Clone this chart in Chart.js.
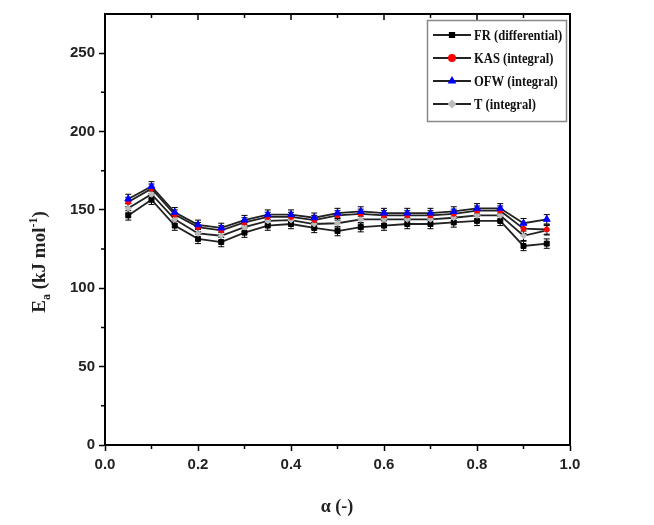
<!DOCTYPE html>
<html>
<head>
<meta charset="utf-8">
<script src="https://cdn.jsdelivr.net/npm/chart.js@4.4.0/dist/chart.umd.min.js"></script>
<style>
  html, body { margin: 0; padding: 0; background: #fff; }
  #wrap { width: 654px; height: 525px; }
</style>
</head>
<body>
<div id="wrap"><canvas id="chart" width="654" height="525"></canvas></div>
<script>
// conversion (x values)
const alpha = [0.05, 0.10, 0.15, 0.20, 0.25, 0.30, 0.35, 0.40, 0.45, 0.50,
               0.55, 0.60, 0.65, 0.70, 0.75, 0.80, 0.85, 0.90, 0.95];

// activation energy, kJ/mol
const frValues  = [146.5, 156.5, 140.0, 131.5, 129.5, 135.5, 140.0, 141.0, 138.5, 136.5,
                   139.0, 140.0, 141.0, 141.0, 142.0, 143.0, 143.0, 127.0, 128.5];
const kasValues = [155.0, 163.5, 147.0, 139.0, 137.0, 142.0, 145.5, 145.5, 143.5, 146.5,
                   147.5, 146.5, 146.5, 146.5, 147.5, 149.5, 149.5, 138.0, 137.5];
const ofwValues = [157.0, 165.0, 148.5, 140.5, 138.5, 143.5, 147.0, 147.0, 145.0, 148.0,
                   149.0, 148.0, 148.0, 148.0, 149.0, 151.0, 151.0, 141.5, 144.0];
const tValues   = [151.0, 160.0, 144.0, 135.0, 133.5, 139.0, 143.0, 143.5, 141.0, 141.5,
                   144.0, 144.0, 144.0, 144.0, 145.0, 146.5, 146.5, 133.5, 137.0];
const errValue = 3;

const xTicks = [0, 0.2, 0.4, 0.6, 0.8, 1.0];
const yTicks = [0, 50, 100, 150, 200, 250];

function toPoints(vals) {
    return vals.map(function(v, i) { return { x: alpha[i], y: v }; });
}

// series definitions (lower order = drawn on top)
const series = [
    { label: 'FR (differential)', data: frValues,  style: 'rect',     color: '#000000', radius: 3.5, order: 3 },
    { label: 'KAS (integral)',    data: kasValues, style: 'circle',   color: '#ff0000', radius: 2.5, order: 1 },
    { label: 'OFW (integral)',    data: ofwValues, style: 'triangle', color: '#0000ff', radius: 4,   order: 0 },
    { label: 'T (integral)',      data: tValues,   style: 'rectRot',  color: '#bbbbbb', radius: 3,   order: 2 }
];

/**
 * error bars, frame, minor ticks, legend and axis titles
 */
const extras = {
    id: 'extras',
    beforeDatasetsDraw: function(chart) {
        const ctx = chart.ctx;
        const xs = chart.scales.x, ys = chart.scales.y;
        ctx.save();
        ctx.strokeStyle = '#000';
        ctx.lineWidth = 1;
        series.forEach(function(s) {
            s.data.forEach(function(v, i) {
                const px = xs.getPixelForValue(alpha[i]);
                const top = ys.getPixelForValue(v + errValue);
                const bot = ys.getPixelForValue(v - errValue);
                ctx.beginPath();
                ctx.moveTo(px, top); ctx.lineTo(px, bot);
                ctx.moveTo(px - 3, top); ctx.lineTo(px + 3, top);
                ctx.moveTo(px - 3, bot); ctx.lineTo(px + 3, bot);
                ctx.stroke();
            });
        });
        ctx.restore();
    },
    afterDraw: function(chart) {
        const ctx = chart.ctx;
        const a = chart.chartArea;
        const xs = chart.scales.x, ys = chart.scales.y;
        ctx.save();

        // frame
        ctx.strokeStyle = '#000';
        ctx.lineWidth = 2;
        ctx.strokeRect(a.left, a.top, a.right - a.left, a.bottom - a.top);

        // minor ticks
        ctx.lineWidth = 1.5;
        ctx.beginPath();
        for (let v = 0.1; v < 1; v += 0.2) {
            const px = xs.getPixelForValue(v);
            ctx.moveTo(px, a.bottom); ctx.lineTo(px, a.bottom + 4);
        }
        for (let v = 25; v < 275; v += 50) {
            const py = ys.getPixelForValue(v);
            ctx.moveTo(a.left, py); ctx.lineTo(a.left - 4, py);
        }
        // top ticks, inward
        for (let v = 0.1; v < 1; v += 0.1) {
            const px = xs.getPixelForValue(v);
            const len = (Math.round(v * 10) % 2 === 0) ? 6 : 4;
            ctx.moveTo(px, a.top); ctx.lineTo(px, a.top + len);
        }
        ctx.stroke();

        // legend
        ctx.strokeStyle = '#888';
        ctx.lineWidth = 1.5;
        ctx.strokeRect(427.5, 20.5, 139, 101);
        series.forEach(function(s, i) {
            const y = 35 + 23 * i;
            ctx.strokeStyle = '#222';
            ctx.lineWidth = 2;
            ctx.beginPath();
            ctx.moveTo(433, y); ctx.lineTo(471, y);
            ctx.stroke();
            ctx.fillStyle = s.color;
            ctx.strokeStyle = s.color;
            Chart.helpers.drawPoint(ctx, { pointStyle: s.style, radius: 3, borderWidth: 1, rotation: 0 }, 452, y);
            ctx.save();
            ctx.translate(474, y + 1);
            ctx.scale(0.84, 1);
            ctx.fillStyle = '#111';
            ctx.font = 'bold 15px "Liberation Serif", "Times New Roman", serif';
            ctx.textBaseline = 'middle';
            ctx.textAlign = 'left';
            ctx.fillText(s.label, 0, 0);
            ctx.restore();
        });

        // x title
        ctx.fillStyle = '#222';
        ctx.font = 'bold 18px "Liberation Serif", "Times New Roman", serif';
        ctx.textAlign = 'center';
        ctx.textBaseline = 'middle';
        ctx.fillText('\u03b1 (-)', 337, 507);

        // y title with subscript and superscript
        const parts = [
            { t: 'E', size: 19, dy: 0 },
            { t: 'a', size: 12, dy: 5 },
            { t: ' (kJ mol', size: 19, dy: 0 },
            { t: '-1', size: 12, dy: -8 },
            { t: ')', size: 19, dy: 0 }
        ];
        let total = 0;
        parts.forEach(function(p) {
            ctx.font = 'bold ' + p.size + 'px "Liberation Serif", serif';
            p.w = ctx.measureText(p.t).width;
            total += p.w;
        });
        ctx.translate(39, 262);
        ctx.rotate(-Math.PI / 2);
        ctx.textAlign = 'left';
        ctx.textBaseline = 'alphabetic';
        let cx = -total / 2;
        parts.forEach(function(p) {
            ctx.font = 'bold ' + p.size + 'px "Liberation Serif", serif';
            ctx.fillText(p.t, cx, p.dy + 6);
            cx += p.w;
        });
        ctx.restore();
    }
};

const tickFont = { family: '"Liberation Sans", Arial, sans-serif', weight: 'bold', size: 15 };

new Chart(document.getElementById('chart'), {
    type: 'line',
    data: {
        datasets: series.map(function(s) {
            return {
                label: s.label,
                data: toPoints(s.data),
                order: s.order,
                borderColor: '#222',
                borderWidth: 1.8,
                tension: 0,
                pointStyle: s.style,
                pointRadius: s.radius,
                pointBorderWidth: 1,
                pointBackgroundColor: s.color,
                pointBorderColor: s.color
            };
        })
    },
    options: {
        responsive: false,
        devicePixelRatio: 1,
        animation: false,
        layout: { padding: { left: 0, top: 14, right: 84, bottom: 0 } },
        plugins: {
            legend: { display: false },
            tooltip: { enabled: false }
        },
        scales: {
            x: {
                type: 'linear',
                min: 0,
                max: 1,
                afterFit: function(s) { s.height = 80; },
                afterBuildTicks: function(s) { s.ticks = xTicks.map(function(v) { return { value: v }; }); },
                grid: { drawOnChartArea: false, drawTicks: true, tickLength: 6, tickColor: '#000', tickWidth: 1.5 },
                border: { display: true, color: '#000', width: 2 },
                ticks: {
                    font: tickFont,
                    color: '#222',
                    padding: 5,
                    maxRotation: 0,
                    callback: function(v) { return Number(v).toFixed(1); }
                }
            },
            y: {
                type: 'linear',
                min: 0,
                max: 275,
                afterFit: function(s) { s.width = 105; },
                afterBuildTicks: function(s) { s.ticks = yTicks.map(function(v) { return { value: v }; }); },
                grid: { drawOnChartArea: false, drawTicks: true, tickLength: 6, tickColor: '#000', tickWidth: 1.5 },
                border: { display: true, color: '#000', width: 2 },
                ticks: {
                    font: tickFont,
                    color: '#222',
                    padding: 4,
                    callback: function(v) { return String(v); }
                }
            }
        }
    },
    plugins: [extras]
});
</script>
</body>
</html>
